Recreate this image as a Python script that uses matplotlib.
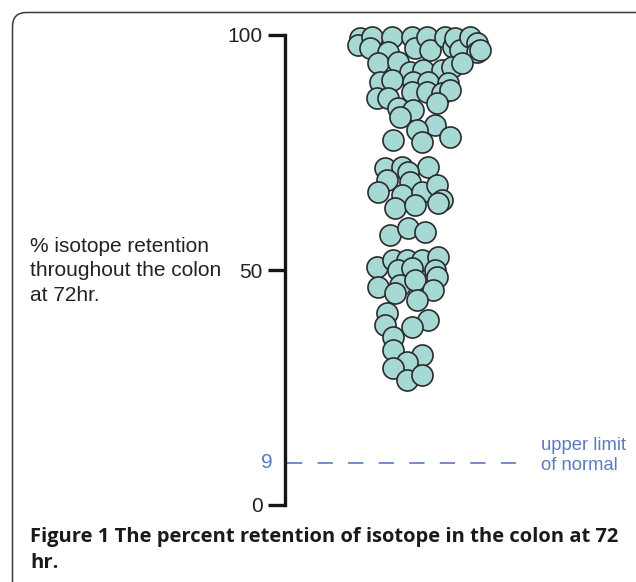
import matplotlib
matplotlib.use("Agg")
import matplotlib.pyplot as plt
from matplotlib.patches import FancyBboxPatch

# ---- data ----
retention = [99.4, 97.9, 99.6, 97.2, 99.6, 96.4, 99.6, 97.2, 99.6, 96.8,
             99.6, 97.4, 99.4, 96.8, 99.6, 98.3, 96.4, 96.8, 94.0, 94.3,
             92.1, 92.6, 92.6, 93.2, 94.0, 90.0, 90.4, 90.0, 90.0, 89.8,
             86.6, 86.6, 87.9, 87.9, 87.7, 88.3, 84.5, 84.0, 85.5, 82.6,
             80.9, 79.8, 77.7, 77.2, 78.3, 71.7, 71.9, 71.9, 70.9, 69.1,
             66.6, 68.7, 66.0, 66.6, 68.1, 64.9, 64.3, 63.2, 63.8, 57.4,
             58.9, 58.1, 50.6, 52.1, 52.1, 52.1, 52.8, 50.0, 50.4, 50.0,
             48.5, 46.4, 46.8, 47.9, 45.7, 45.1, 43.6, 40.9, 39.4, 38.3,
             37.9, 35.7, 33.0, 31.9, 30.4, 29.1, 26.6, 27.7]
swarm_offset = [75, 73, 87, 85, 107, 103, 127, 130, 142, 145,
                160, 168, 170, 175, 185, 192, 192, 195, 93, 113,
                125, 138, 157, 167, 177, 95, 107, 128, 143, 163,
                92, 103, 127, 142, 157, 165, 113, 128, 152, 115,
                150, 132, 108, 137, 165, 100, 117, 143, 123, 102,
                93, 125, 117, 137, 152, 157, 153, 110, 130, 105,
                123, 140, 92, 108, 122, 137, 153, 113, 127, 150,
                152, 93, 115, 130, 148, 110, 132, 102, 143, 100,
                127, 108, 108, 137, 122, 108, 122, 137]
y_ticks = [0, 50, 100]
normal_limit = 9
y_label = "% isotope retention\nthroughout the colon\nat 72hr."
limit_label = "upper limit\nof normal"
caption = "Figure 1 The percent retention of isotope in the colon at 72\nhr."

W, H = 636, 582
plt.rcParams['font.family'] = ['Liberation Sans', 'DejaVu Sans']
plt.rcParams['lines.scale_dashes'] = False
fig = plt.figure(figsize=(W / 100, H / 100), dpi=100)

def fx(px):
    return px / W

def fy(py):
    return 1 - py / H

# frame overlay
ov = fig.add_axes([0, 0, 1, 1])
ov.set_xlim(0, W)
ov.set_ylim(H, 0)
ov.axis('off')
ov.add_patch(FancyBboxPatch((12.5, 12.5), 640, 600,
                            boxstyle="round,pad=0,rounding_size=14",
                            fc='none', ec='#3a3a3a', lw=1.1))

# main axes
ax = fig.add_axes([fx(285), fy(505), fx(630) - fx(285), fy(35) - fy(505)])
ax.set_ylim(0, 100)
ax.set_xlim(0, 345)
ax.patch.set_alpha(0)
for s in ['top', 'right', 'bottom']:
    ax.spines[s].set_visible(False)
ax.spines['left'].set_linewidth(2.4)
ax.spines['left'].set_color('#151515')
ax.spines['left'].set_capstyle('projecting')
ax.set_xticks([])
ax.set_yticks(y_ticks)
ax.set_yticklabels([str(v) for v in y_ticks])
ax.tick_params(axis='y', length=12, width=2.4, color='#151515',
               labelsize=15, labelcolor='#222222', pad=4)

blue = '#5a7cc0'
ax.plot([2, 243], [normal_limit, normal_limit], color=blue, lw=1.2,
        dashes=(11, 11), clip_on=False)
ax.text(-12, normal_limit, str(normal_limit), color=blue, fontsize=15,
        ha='right', va='center', clip_on=False)
ax.text(256, normal_limit + 1.5, limit_label, color=blue, fontsize=13.2,
        ha='left', va='center', linespacing=1.22, clip_on=False)

ax.scatter(swarm_offset, retention, s=230, facecolor='#a6d9d3',
           edgecolor='#2b2b2b', linewidth=1.2, zorder=3, clip_on=False)

# left label
ov.text(30, 271, y_label, fontsize=15, color='#222222', ha='left',
        va='center', linespacing=1.38)

# caption
cap = ov.text(30, 537, caption.split('\n')[0], fontsize=13.5, fontweight='bold',
              color='#1a1a1a', ha='left', va='center',
              family=['Open Sans', 'DejaVu Sans'])
fig.canvas.draw()
bb = cap.get_window_extent()
cap.set_fontsize(13.5 * 590 / bb.width)
ov.text(30, 563, caption.split('\n')[1], fontsize=cap.get_fontsize(),
        fontweight='bold', color='#1a1a1a', ha='left', va='center',
        family=['Open Sans', 'DejaVu Sans'])

fig.savefig('out.png', dpi=100)
